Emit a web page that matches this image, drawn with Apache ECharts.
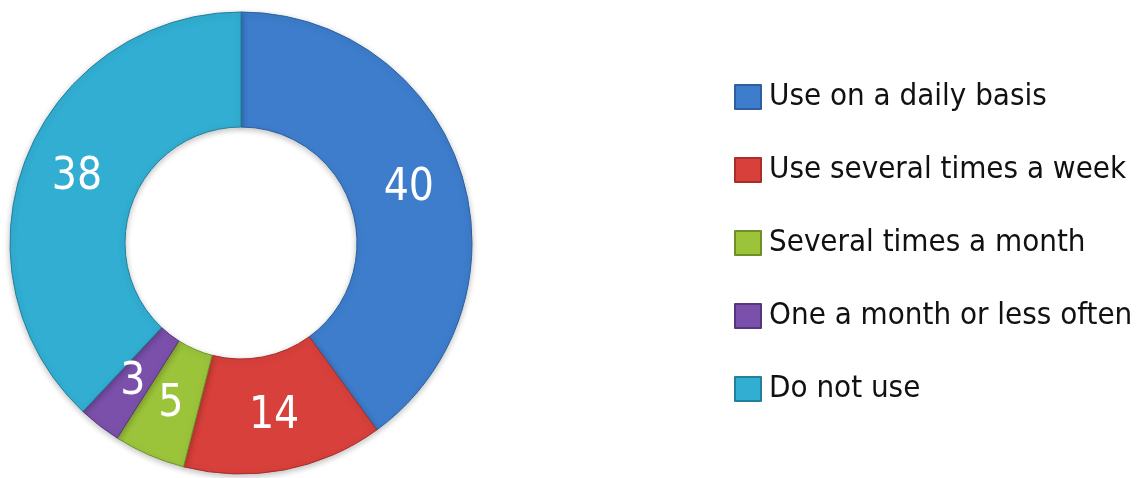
<!DOCTYPE html>
<html>
<head>
<meta charset="utf-8">
<script src="https://cdn.jsdelivr.net/npm/echarts@6/dist/echarts.min.js"></script>
<style>
  html, body { margin: 0; padding: 0; background: #fff; }
  #chart { width: 1145px; height: 478px; }
</style>
</head>
<body>
<div id="chart"></div>
<script>
const categories = [
  'Use on a daily basis',
  'Use several times a week',
  'Several times a month',
  'One a month or less often',
  'Do not use'
]
const values = [40, 14, 5, 3, 38]
const colors = ['#3d7dcc', '#d8403b', '#9cc43b', '#7b50ab', '#31aed2']
const borders = ['#2d5f9e', '#a82e2a', '#6f8f26', '#573680', '#22809c']

const font = '"Liberation Sans Narrow", "DejaVu Sans Condensed", "Roboto", sans-serif'

const chart = echarts.init(document.getElementById('chart'))
chart.setOption({
  animation: false,
  legend: {
    orient: 'vertical',
    left: 729,
    top: 71,
    itemWidth: 26,
    itemHeight: 24,
    itemGap: 31,
    icon: 'rect',
    textStyle: {
      fontFamily: font,
      fontSize: 31,
      color: '#111',
      padding: [0, 0, 0, 3],
      lineHeight: 42
    },
    data: categories
  },
  series: [{
    type: 'pie',
    center: [241, 243],
    radius: [116, 231],
    startAngle: 90,
    clockwise: true,
    avoidLabelOverlap: false,
    label: {
      show: true,
      position: 'inside',
      formatter: '{c}',
      color: '#fff',
      fontFamily: font,
      fontSize: 44,
      padding: [6, 0, 0, 0]
    },
    labelLine: { show: false },
    data: categories.map((name, i) => ({
      name,
      value: values[i],
      itemStyle: {
        color: colors[i],
        borderColor: borders[i],
        borderWidth: 1,
        shadowBlur: 6,
        shadowColor: 'rgba(0,0,0,0.25)',
        shadowOffsetY: 2
      }
    }))
  }]
})
</script>
</body>
</html>
